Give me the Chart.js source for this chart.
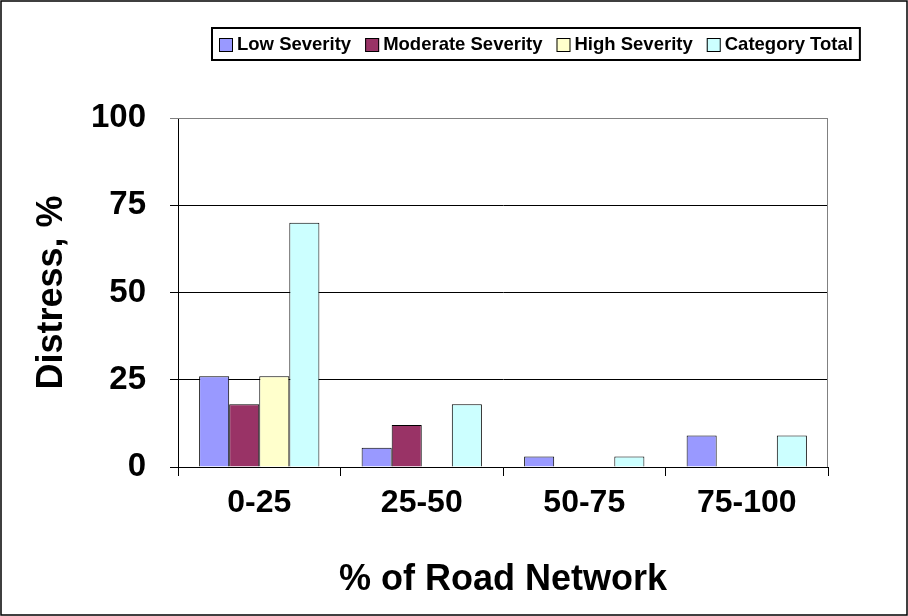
<!DOCTYPE html>
<html><head><script src="https://cdn.jsdelivr.net/npm/chart.js@4"></script>
<style>html,body{margin:0;padding:0;background:#fff}#w{width:908px;height:616px}</style></head>
<body><div id="w"><canvas id="c"></canvas></div>
<script>
const categories=["0-25","25-50","50-75","75-100"];
const lowSeverity=[26,5.5,3,9];
const moderateSeverity=[18,12,0,0];
const highSeverity=[26,0,0,0];
const categoryTotal=[70,18,3,9];
const yTicks=[0,25,50,75,100];
const F="'Liberation Sans', Arial, sans-serif";
const frame={id:'frame',afterDraw(ch){const x=ch.ctx,a=ch.chartArea;x.save();
x.strokeStyle='#000';x.lineWidth=1.5;x.strokeRect(1,1,ch.width-2,ch.height-2);
x.font="bold 18.5px "+F;x.textBaseline='middle';
const items=ch.data.datasets.map(d=>({t:d.label,c:d.backgroundColor}));
let w=0;const box=14,gap=4,sep=14;items.forEach(i=>w+=box+gap+x.measureText(i.t).width+sep);w+=0;
const lx=Math.round(536-w/2),ly=28,lh=32;x.lineWidth=2;x.strokeRect(lx,ly,w,lh);
let cx=lx+7;const cy=ly+lh/2+1;x.lineWidth=1;
items.forEach(i=>{x.fillStyle=i.c;x.fillRect(cx,cy-box/2,box,box);x.strokeStyle='#000';x.strokeRect(cx+0.5,cy-box/2+0.5,box-1,box-1);
cx+=box+gap;x.fillStyle='#000';x.fillText(i.t,cx,cy);cx+=x.measureText(i.t).width+sep;});
x.strokeStyle='#808080';x.beginPath();x.moveTo(a.left,a.top+0.5);x.lineTo(a.right-0.5,a.top+0.5);x.lineTo(a.right-0.5,a.bottom);x.stroke();x.restore();}};
const ds=(l,d,c)=>({label:l,data:d,backgroundColor:c,borderColor:'#000',borderWidth:1,categoryPercentage:0.74,barPercentage:1});
new Chart(document.getElementById('c'),{type:'bar',
data:{labels:categories,datasets:[ds('Low Severity',lowSeverity,'#9999FF'),ds('Moderate Severity',moderateSeverity,'#993366'),ds('High Severity',highSeverity,'#FFFFCC'),ds('Category Total',categoryTotal,'#CCFFFF')]},
options:{responsive:true,maintainAspectRatio:false,animation:false,
layout:{padding:{left:26,right:80,top:118,bottom:10}},
plugins:{tooltip:{enabled:false},legend:{display:false}},
scales:{
x:{offset:true,grid:{offset:true,drawOnChartArea:false,drawTicks:true,tickLength:9,color:'#000'},border:{color:'#000'},
ticks:{color:'#000',font:{family:F,size:32,weight:'bold'},padding:8},
title:{display:true,text:'% of Road Network',color:'#000',font:{family:F,size:36,weight:'bold'},padding:{top:8}},
afterFit(s){s.height=139;}},
y:{min:0,max:100,afterBuildTicks(s){s.ticks=yTicks.map(v=>({value:v}));},
grid:{color:c=>c.tick&&c.tick.value===100?'#808080':'#000',tickLength:8},border:{color:'#000'},
ticks:{color:'#000',font:{family:F,size:33,weight:'bold'},padding:24},
title:{display:true,text:'Distress, %',color:'#000',font:{family:F,size:36,weight:'bold'},padding:{bottom:6}},
afterFit(s){s.width=152;}}}},
plugins:[frame]});
</script></body></html>
